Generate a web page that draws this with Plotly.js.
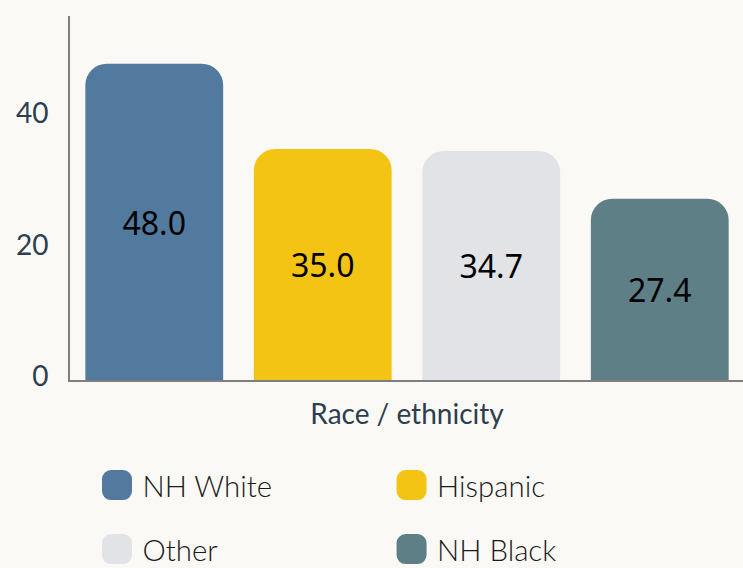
<!DOCTYPE html>
<html>
<head>
<meta charset="utf-8">
<script src="https://cdn.plot.ly/plotly-3.0.1.min.js"></script>
<style>
  html { margin: 0; padding: 0; background: #faf9f5; overflow: hidden; }
  body { margin: 0; padding: 0; background: #faf9f5; width: 743px; height: 568px; }
  #wrap { width: 372px; height: 284px; transform: scale(2); transform-origin: 0 0; }
  #chart { width: 372px; height: 284px; }
</style>
</head>
<body>
<div id="wrap"><div id="chart"></div></div>
<script>
const groups = ["NH White", "Hispanic", "Other", "NH Black"];
const values = [48.0, 35.0, 34.7, 27.4];
const colors = ["#52799e", "#f4c414", "#e1e3e6", "#5f7f87"];
const legendIds = ["legend", "legend2", "legend3", "legend4"];
const axisTitle = "Race / ethnicity";
const yTicks = [0, 20, 40];

const traces = groups.map((g, i) => ({
  type: "bar",
  name: g,
  x: [axisTitle],
  y: [values[i]],
  legend: legendIds[i],
  marker: { color: colors[i], cornerradius: 10, line: { color: colors[i], width: 1.5 } },
  text: [values[i].toFixed(1)],
  texttemplate: "%{text}",
  textposition: "inside",
  insidetextanchor: "middle",
  textangle: 0,
  textfont: { family: "Noto Sans, sans-serif", size: 16, color: "#000000" },
  hoverinfo: "none"
}));

const legendFont = { family: "Lato, sans-serif", size: 14.7, weight: 300, color: "#1a1a1a" };
const legendPos = [[-0.0111, 0.1444], [0.4259, 0.1444], [-0.0111, 0.0317], [0.4259, 0.0317]];
function legendBox(p) {
  return {
    orientation: "h", x: p[0], xanchor: "left",
    y: p[1], yref: "container", yanchor: "middle",
    font: legendFont, bgcolor: "rgba(0,0,0,0)", borderwidth: 0
  };
}

const layout = {
  width: 372, height: 284,
  paper_bgcolor: "#faf9f5",
  plot_bgcolor: "#faf9f5",
  margin: { l: 34.5, r: 0, t: 7.5, b: 94, autoexpand: false },
  barmode: "group",
  bargap: 0,
  bargroupgap: 0.2,
  showlegend: true,
  font: { family: "Lato, sans-serif", size: 14, color: "#2c3e50" },
  xaxis: {
    showticklabels: false,
    ticks: "",
    showline: true, linecolor: "#7f7f7f", linewidth: 1,
    showgrid: false, zeroline: false,
    title: { text: axisTitle, standoff: 11.5, font: { family: "Lato, sans-serif", size: 14, color: "#2c3e50" } }
  },
  yaxis: {
    range: [0, 55.5],
    tickvals: yTicks,
    ticktext: yTicks.map(String),
    ticks: "outside", ticklen: 7, tickcolor: "rgba(0,0,0,0)",
    ticklabelshift: -2,
    showline: true, linecolor: "#7f7f7f", linewidth: 1,
    showgrid: false, zeroline: false,
    tickfont: { family: "Lato, sans-serif", size: 14, color: "#2c3e50" }
  }
};
legendIds.forEach((id, i) => { layout[id] = legendBox(legendPos[i]); });

Plotly.newPlot("chart", traces, layout, { displayModeBar: false, staticPlot: true }).then(() => {
  // move the legend swatches closer to their labels, as in the reference
  document.querySelectorAll("#chart .legendpoints").forEach(el => {
    const t = el.getAttribute("transform") || "";
    const m = t.match(/translate\(\s*([-\d.]+)[ ,]+([-\d.]+)\s*\)/);
    const x = m ? parseFloat(m[1]) : 0;
    const y = m ? parseFloat(m[2]) : 0;
    el.setAttribute("transform", "translate(" + (x + 7.25) + "," + y + ")");
  });
  document.querySelectorAll("#chart .legendpoints path").forEach(p => {
    p.style.strokeWidth = "3px";
  });
});
</script>
</body>
</html>
